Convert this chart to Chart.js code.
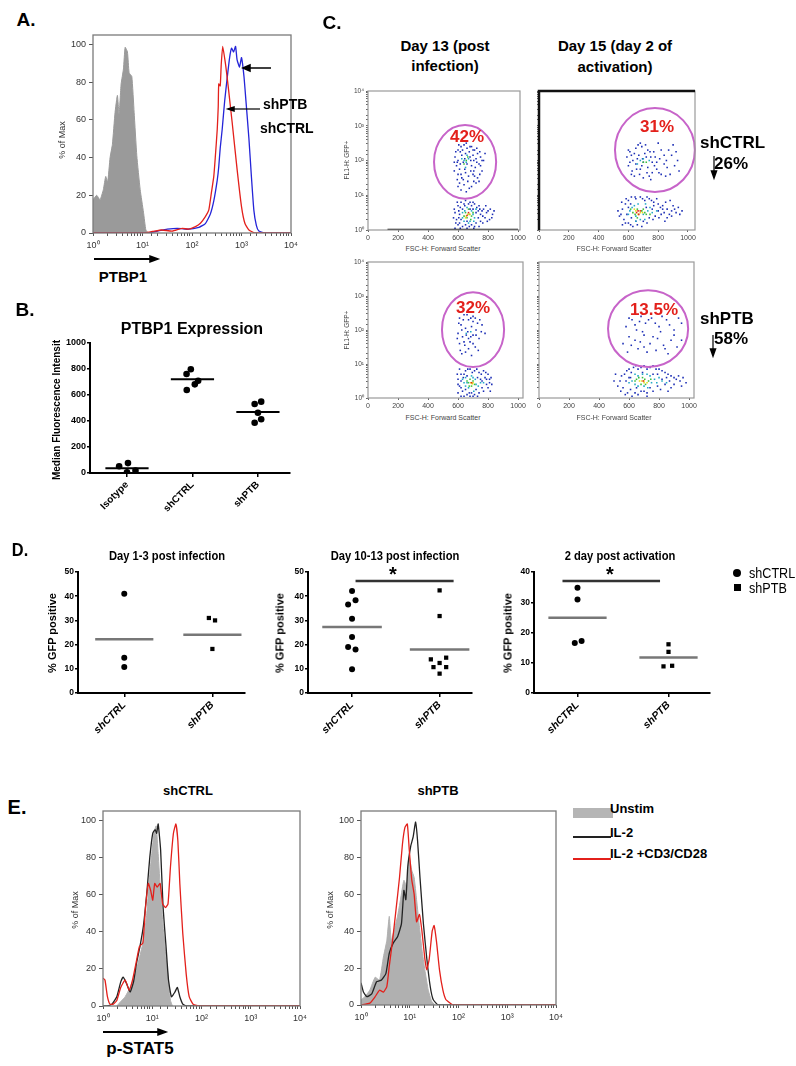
<!DOCTYPE html>
<html>
<head>
<meta charset="utf-8">
<script src="https://cdn.jsdelivr.net/npm/chart.js@4.4.0/dist/chart.umd.min.js"></script>
<style>
  body { margin:0; background:#fff; }
  #page { position:relative; width:796px; height:1066px; overflow:hidden; font-family:"Liberation Sans", Arial, sans-serif; color:#000; }
  canvas { position:absolute; }
  .t { position:absolute; white-space:nowrap; transform:translate(-50%,-50%); line-height:1; }
  .l { position:absolute; white-space:nowrap; transform:translateY(-50%); line-height:1; }
  .b { font-weight:bold; }
  .v { transform:translate(-50%,-50%) rotate(-90deg); }
  .nw { transform:translate(-50%,-50%) scaleX(0.86); }
  .nl { transform-origin:left center; transform:translateY(-50%) scaleX(0.9); }
  .pct { color:#e3201b; font-weight:bold; font-size:17px; }
  .sm { font-size:7px; color:#444; }
  svg { position:absolute; left:0; top:0; pointer-events:none; }
</style>
</head>
<body>
<div id="page">
  <canvas id="chA"></canvas>
  <canvas id="chB"></canvas>
  <canvas id="chC1"></canvas>
  <canvas id="chC2"></canvas>
  <canvas id="chC3"></canvas>
  <canvas id="chC4"></canvas>
  <canvas id="chD1"></canvas>
  <canvas id="chD2"></canvas>
  <canvas id="chD3"></canvas>
  <canvas id="chE1"></canvas>
  <canvas id="chE2"></canvas>

  <!-- A -->
  <div class="t b" style="left:26px;top:19px;font-size:19px">A.</div>
  <div class="t v" style="left:62px;top:140px;font-size:9px;color:#333">% of Max</div>
  <div class="t b" style="left:123px;top:276px;font-size:15px">PTBP1</div>
  <div class="l b" style="left:263px;top:104px;font-size:14px">shPTB</div>
  <div class="l b" style="left:260px;top:128px;font-size:14px">shCTRL</div>

  <!-- B -->
  <div class="t b" style="left:25px;top:309px;font-size:19px">B.</div>
  <div class="t b" style="left:192px;top:329px;font-size:16px">PTBP1 Expression</div>
  <div class="t b v" style="left:57px;top:410px;font-size:10px">Median Fluorescence Intensit</div>

  <!-- C -->
  <div class="t b" style="left:332px;top:22px;font-size:19px">C.</div>
  <div class="t b" style="left:445px;top:45px;font-size:15px">Day 13 (post</div>
  <div class="t b" style="left:445px;top:65px;font-size:15px">infection)</div>
  <div class="t b" style="left:615px;top:45px;font-size:15px">Day 15 (day 2 of</div>
  <div class="t b" style="left:615px;top:66px;font-size:15px">activation)</div>
  <div class="t pct" style="left:467px;top:136px">42%</div>
  <div class="t pct" style="left:657px;top:126px">31%</div>
  <div class="t pct" style="left:473px;top:307px">32%</div>
  <div class="t pct" style="left:654px;top:309px">13.5%</div>
  <div class="l b" style="left:700px;top:142px;font-size:17px">shCTRL</div>
  <div class="t b" style="left:731px;top:163px;font-size:17px">26%</div>
  <div class="l b" style="left:700px;top:318px;font-size:17px">shPTB</div>
  <div class="t b" style="left:731px;top:338px;font-size:17px">58%</div>
  <div class="t sm" style="left:443px;top:248px">FSC-H: Forward Scatter</div>
  <div class="t sm" style="left:614px;top:248px">FSC-H: Forward Scatter</div>
  <div class="t sm" style="left:443px;top:417px">FSC-H: Forward Scatter</div>
  <div class="t sm" style="left:614px;top:417px">FSC-H: Forward Scatter</div>
  <div class="t sm v" style="left:347px;top:160px;font-size:6.5px">FL1-H: GFP+</div>
  <div class="t sm v" style="left:347px;top:330px;font-size:6.5px">FL1-H: GFP+</div>

  <!-- D -->
  <div class="t b nw" style="left:20px;top:549px;font-size:19px">D.</div>
  <div class="t b nw" style="left:167px;top:555px;font-size:13px">Day 1-3 post infection</div>
  <div class="t b nw" style="left:395px;top:555px;font-size:13px">Day 10-13 post infection</div>
  <div class="t b nw" style="left:620px;top:555px;font-size:13px">2 day post activation</div>
  <div class="t b v" style="left:52px;top:633px;font-size:11px">% GFP positive</div>
  <div class="t b v" style="left:280px;top:633px;font-size:11px">% GFP positive</div>
  <div class="t b v" style="left:508px;top:633px;font-size:11px">% GFP positive</div>
  <div class="t b" style="left:393px;top:574px;font-size:20px">*</div>
  <div class="t b" style="left:610px;top:574px;font-size:20px">*</div>
  <div style="position:absolute;left:733px;top:569px;width:8px;height:8px;border-radius:50%;background:#000"></div>
  <div class="l nl" style="left:749px;top:573px;font-size:14px">shCTRL</div>
  <div style="position:absolute;left:734px;top:584px;width:7px;height:7px;background:#000"></div>
  <div class="l nl" style="left:749px;top:588px;font-size:14px">shPTB</div>

  <!-- E -->
  <div class="t b" style="left:17px;top:807px;font-size:20px">E.</div>
  <div class="t b" style="left:188px;top:790px;font-size:13px">shCTRL</div>
  <div class="t b" style="left:438px;top:790px;font-size:13px">shPTB</div>
  <div class="t v" style="left:75px;top:910px;font-size:9px;color:#333">% of Max</div>
  <div class="t v" style="left:330px;top:910px;font-size:9px;color:#333">% of Max</div>
  <div class="t b" style="left:140px;top:1048px;font-size:17px">p-STAT5</div>
  <div style="position:absolute;left:573px;top:808px;width:40px;height:10px;background:#b5b5b5"></div>
  <div class="l b" style="left:610px;top:808px;font-size:13px">Unstim</div>
  <div style="position:absolute;left:573px;top:836px;width:38px;height:2px;background:#222"></div>
  <div class="l b" style="left:610px;top:832px;font-size:13px">IL-2</div>
  <div style="position:absolute;left:573px;top:858px;width:38px;height:2px;background:#e3201b"></div>
  <div class="l b" style="left:610px;top:853px;font-size:13px">IL-2 +CD3/CD28</div>

  <svg width="796" height="1066">
    <g stroke="#000" stroke-width="1.5" fill="#000">
      <line x1="271" y1="68" x2="248" y2="68"/><polygon points="243,68 250,65 250,71"/>
      <line x1="260" y1="109" x2="232" y2="109" stroke-width="1.2"/><polygon points="228,109 234,107 234,111"/>
      <line x1="94" y1="259" x2="152" y2="259" stroke-width="2"/><polygon points="158,259 150,256 150,262"/>
      <line x1="103" y1="1032" x2="160" y2="1032" stroke-width="2"/><polygon points="166,1032 158,1029 158,1035"/>
      <line x1="714" y1="156" x2="714" y2="173" stroke-width="1.2"/><polygon points="714,178 711.5,171 716.5,171"/>
      <line x1="713" y1="335" x2="713" y2="351" stroke-width="1.2"/><polygon points="713,356 710.5,349 715.5,349"/>
    </g>
  </svg>
</div>

<script>
// ---------- data ----------
// histograms: [log10 intensity, % of max]
var aIsotype = [[0,17.6],[0.074,20],[0.142,17.6],[0.209,23],[0.257,30],[0.297,27],[0.345,40],[0.392,47],[0.446,64],[0.493,73],[0.527,63],[0.568,79],[0.615,87],[0.649,98.5],[0.696,96],[0.73,85],[0.784,83],[0.831,64],[0.885,41],[0.953,23],[1.02,11],[1.068,1.6],[1.12,0]];
var aShPTB = [[0,0],[1.0,0],[1.2,0.8],[1.39,1.6],[1.6,1],[1.8,2.5],[1.93,2],[2.07,3.4],[2.17,5.2],[2.27,8.7],[2.34,12.3],[2.39,21],[2.44,30],[2.47,40],[2.51,55],[2.53,67],[2.54,79],[2.57,78],[2.59,89],[2.62,99],[2.68,89],[2.73,78],[2.81,59],[2.91,34],[3.0,14],[3.07,5],[3.15,1.6],[3.28,0],[4,0]];
var aShCTRL = [[0,0],[1.1,0],[1.3,1],[1.5,2],[1.7,2.5],[1.9,2],[2.14,3],[2.27,5],[2.37,10],[2.44,17],[2.51,28],[2.54,35],[2.57,45],[2.61,55],[2.66,70],[2.71,82],[2.76,93],[2.80,98],[2.84,96],[2.88,99],[2.91,92],[2.96,88],[3.0,93],[3.05,83],[3.09,70],[3.15,50],[3.2,30],[3.25,12],[3.30,4],[3.35,1],[3.49,0],[4,0]];

var e1Unstim = [[0.28,0],[0.38,3],[0.45,5],[0.55,10],[0.65,17],[0.74,26],[0.82,35],[0.89,50],[0.94,68],[0.99,82],[1.04,94],[1.08,97],[1.12,82],[1.17,61],[1.22,43],[1.28,26],[1.33,14],[1.37,3],[1.41,0]];
var e1IL2 = [[0,0],[0.08,0],[0.18,1],[0.28,5],[0.36,13],[0.41,15.6],[0.48,12],[0.55,7.5],[0.62,13],[0.68,23],[0.75,32],[0.82,43],[0.89,61],[0.95,80],[1.01,93],[1.06,95],[1.09,93],[1.12,98],[1.17,84],[1.22,53],[1.28,32],[1.33,14],[1.39,5],[1.46,7.5],[1.51,10],[1.56,5],[1.62,1],[1.70,0],[4,0]];
var e1IL2CD = [[0,15],[0.04,14],[0.09,5],[0.14,1],[0.21,1],[0.28,3],[0.36,10],[0.45,14],[0.53,8.5],[0.60,14],[0.67,23],[0.74,32],[0.81,34],[0.86,52],[0.92,66],[0.97,62],[1.01,57],[1.05,66],[1.10,64],[1.16,66],[1.21,55],[1.27,53],[1.32,55],[1.37,75],[1.43,93],[1.48,98],[1.52,89],[1.56,66],[1.62,39],[1.69,17],[1.75,5],[1.83,1],[1.97,0],[4,0]];

var e2Unstim = [[0,2.7],[0.08,4.5],[0.18,8],[0.29,15],[0.38,13.5],[0.46,26],[0.53,35],[0.58,48],[0.62,35],[0.68,40.5],[0.75,48],[0.81,57],[0.88,67.5],[0.94,64],[0.99,80],[1.04,73],[1.09,69],[1.14,57],[1.20,42],[1.25,30],[1.31,19],[1.38,8],[1.45,2],[1.52,0]];
var e2IL2 = [[0,12],[0.05,7],[0.12,4.5],[0.22,6],[0.32,12.6],[0.42,13.5],[0.51,17],[0.58,28],[0.66,33.5],[0.75,37],[0.83,44],[0.88,62],[0.92,57],[0.96,75],[1.02,86],[1.07,91],[1.12,99],[1.16,89],[1.21,69],[1.28,44],[1.35,25],[1.42,10],[1.48,3],[1.59,0],[4,0]];
var e2IL2CD = [[0,0],[0.18,1],[0.29,4.5],[0.38,8],[0.46,7],[0.53,10],[0.58,21],[0.65,35.5],[0.72,52],[0.79,69],[0.85,87],[0.90,96],[0.95,98],[0.99,84],[1.04,68],[1.09,60],[1.14,45],[1.20,49],[1.25,40],[1.31,25],[1.35,19],[1.40,25],[1.46,40],[1.50,43],[1.55,34],[1.61,19],[1.68,8],[1.74,3],[1.83,1],[1.89,0],[4,0]];

// B: median fluorescence intensity
var bCats = ['Isotype', 'shCTRL', 'shPTB'];
var bIsotype = [52, 76, 6, 18];
var bIsotypeJit = [-0.12, 0.015, 0, 0.13];
var bShCTRL = [762, 798, 710, 682, 638];
var bShCTRLJit = [-0.09, -0.025, 0.087, 0.036, -0.087];
var bShPTB = [531, 549, 464, 413, 387];
var bShPTBJit = [-0.05, 0.05, 0, 0.05, -0.05];
var bMeans = [36, 721, 469];

// C: flow plots [FSC-H, log10 FL1-H]
var cXTicks = [0, 200, 400, 600, 800, 1000];
var c1Blue = [[600,2.3],[620,2.4],[640,2.45],[660,2.35],[690,2.4],[710,2.3],[730,2.2],[750,2.1],[770,2.0],[580,2.1],[600,2.0],[625,2.15],[650,2.2],[675,2.25],[700,2.15],[720,2.05],[590,1.85],[610,1.75],[635,1.95],[660,1.9],[690,1.85],[715,1.8],[740,1.9],[760,1.7],[600,1.6],[625,1.5],[650,1.65],[670,1.55],[700,1.6],[730,1.5],[610,1.35],[640,1.3],[665,1.4],[690,1.25],[620,1.15],[655,1.1],[720,1.35],[780,2.2],[575,1.95],[745,1.6],[615,2.25],[685,2.0],[705,1.7],[645,2.05],[595,1.45],
  [585,2.25],[605,2.45],[630,2.3],[655,2.5],[680,2.4],[700,2.3],[725,2.35],[745,2.25],[760,2.0],[595,1.95],[615,1.9],[680,2.1],[705,2.0],[725,1.95],[750,1.85],[575,1.7],[620,1.6],[645,1.75],[685,1.7],[710,1.55],[740,1.4],[635,1.45],[675,1.2],[600,1.25],[705,1.4],
  [580,0.5],[600,0.7],[620,0.8],[650,0.85],[680,0.8],[710,0.75],[740,0.7],[770,0.6],[800,0.55],[830,0.45],[590,0.3],[610,0.45],[630,0.6],[700,0.6],[720,0.5],[750,0.45],[780,0.35],[810,0.3],[600,0.15],[630,0.1],[660,0.05],[690,0.15],[720,0.2],[750,0.25],[620,0.3],[740,0.1],[570,0.35],[790,0.5],[640,0.75],[690,0.7],[605,0.55],[765,0.4],[735,0.55],[610,0.2],[705,0.05],
  [575,0.6],[595,0.8],[615,0.65],[645,0.7],[670,0.75],[700,0.8],[725,0.65],[760,0.55],[785,0.7],[815,0.6],[840,0.55],[585,0.2],[605,0.35],[650,0.15],[675,0.1],[710,0.1],[735,0.35],[765,0.2],[795,0.25],[825,0.35],[580,0.05],[615,0.05],[680,0.6],[745,0.6],[660,0.25]];
var c1Cyan = [[640,2.0],[655,1.95],[670,2.05],[650,1.8],[630,0.5],[690,0.55],[660,0.65],[710,0.35],[640,0.25],[680,0.25],[625,2.05],[660,2.15],[645,0.55],[700,0.45],[720,0.6],[670,0.2],[630,0.35],[705,0.25]];
var c1Green = [[665,2.1],[650,0.5],[675,0.45],[660,0.35],[690,0.4],[640,1.9],[655,2.0],[640,0.4],[700,0.5],[670,0.6],[685,0.3]];
var c1Yellow = [[665,0.45],[655,0.4],[680,0.45],[650,0.35]];
var c1Red = [[660,0.42],[670,0.5]];
var c1Floor = [[130,0],[1000,0]];

var c2Blue = [[590,2.1],[610,2.25],[630,2.0],[650,2.35],[670,2.15],[690,2.4],[710,2.2],[730,2.3],[750,2.1],[770,2.25],[790,1.95],[810,2.05],[840,2.15],[870,2.3],[900,2.45],[930,2.0],[600,1.85],[625,1.7],[650,1.9],[680,1.75],[700,1.95],[730,1.8],[760,1.65],[790,1.75],[820,1.6],[860,1.8],[640,1.55],[700,1.5],[750,1.45],[880,1.6],[660,2.05],[720,2.1],[620,2.15],[760,1.95],[940,1.7],[680,2.5],[800,2.5],[840,1.9],
  [600,2.3],[640,2.2],[665,2.45],[695,2.05],[715,2.45],[745,2.25],[780,2.1],[820,2.3],[855,2.0],[890,2.15],[920,2.25],[610,1.95],[655,1.75],[690,1.85],[725,1.65],[775,1.85],[805,1.65],[850,1.55],[910,1.85],[620,1.6],[675,1.6],[740,1.55],
  [540,0.4],[560,0.6],[580,0.75],[600,0.85],[620,0.95],[650,0.9],[680,0.95],[710,0.85],[740,0.9],[770,0.8],[800,0.75],[830,0.7],[860,0.6],[890,0.55],[920,0.5],[945,0.45],[570,0.3],[600,0.2],[630,0.1],[660,0.15],[700,0.25],[740,0.35],[780,0.4],[820,0.45],[860,0.35],[590,0.45],[760,0.6],[800,0.55],[840,0.5],[900,0.7],[620,0.35],[560,0.15],[880,0.85],[720,0.65],
  [530,0.55],[555,0.8],[585,0.9],[615,0.75],[645,0.95],[695,0.9],[725,0.95],[755,0.85],[790,0.9],[815,0.65],[850,0.8],[875,0.45],[910,0.6],[935,0.65],[960,0.55],[550,0.45],[580,0.2],[615,0.15],[650,0.25],[690,0.1],[725,0.2],[765,0.3],[805,0.35],[845,0.25],[890,0.4],[600,0.65],[770,0.7],[830,0.6]];
var c2Cyan = [[680,2.0],[700,2.05],[610,0.55],[640,0.7],[700,0.45],[730,0.55],[680,0.3],[760,0.5],[650,0.4],[660,1.9],[740,2.0],[625,0.65],[665,0.75],[715,0.75],[745,0.65],[790,0.55],[600,0.45],[710,0.3],[650,0.25]];
var c2Green = [[720,1.95],[630,0.5],[660,0.6],[700,0.6],[720,0.45],[700,1.95],[615,0.6],[645,0.45],[690,0.55],[745,0.45],[710,0.5],[660,0.35]];
var c2Yellow = [[650,0.55],[680,0.5],[640,0.6],[695,0.5],[665,0.45]];
var c2Red = [[665,0.55],[670,0.45],[655,0.5],[680,0.55]];

var c3Blue = [[610,2.35],[640,2.45],[670,2.3],[700,2.4],[730,2.2],[620,2.15],[650,2.05],[690,2.1],[720,2.0],[760,2.15],[600,1.9],[630,1.8],[665,1.95],[700,1.85],[740,1.75],[610,1.6],[645,1.55],[680,1.65],[715,1.5],[650,1.35],[690,1.25],[625,1.3],[780,1.9],[670,1.75],[700,2.25],
  [605,2.2],[635,2.3],[660,2.45],[685,2.35],[715,2.35],[745,2.3],[625,2.0],[655,1.85],[685,1.8],[720,1.85],[755,1.95],[595,1.75],[640,1.65],[700,1.6],[670,1.45],[615,1.4],[735,1.4],
  [600,0.55],[620,0.7],[650,0.8],[680,0.85],[710,0.8],[740,0.75],[770,0.8],[800,0.7],[820,0.6],[610,0.35],[630,0.2],[660,0.1],[690,0.15],[720,0.25],[760,0.3],[790,0.4],[810,0.45],[600,0.15],[640,0.05],[700,0.05],[750,0.55],[780,0.6],[620,0.5],[660,0.65],[730,0.6],
  [595,0.7],[610,0.85],[635,0.6],[665,0.85],[695,0.75],[725,0.85],[755,0.7],[785,0.75],[810,0.55],[825,0.4],[600,0.4],[620,0.3],[650,0.25],[675,0.15],[710,0.1],[740,0.15],[770,0.2],[800,0.3],[815,0.2],[620,0.05],[680,0.05],[730,0.05],[640,0.7],[760,0.5],[790,0.55]];
var c3Cyan = [[655,1.9],[685,1.95],[640,0.45],[720,0.4],[670,0.3],[700,0.6],[750,0.45],[650,0.6],[630,0.55],[660,0.45],[690,0.65],[715,0.55],[735,0.35],[705,0.2],[650,0.35],[770,0.45]];
var c3Green = [[670,0.45],[700,0.5],[690,0.35],[680,0.55],[710,0.4],[660,0.5],[675,0.35]];
var c3Yellow = [[685,0.45],[695,0.42],[700,0.45]];
var c3Red = [[690,0.45]];

var c4Blue = [[580,2.1],[620,2.3],[650,2.0],[680,2.4],[710,2.2],[750,2.35],[800,2.1],[850,2.3],[900,2.0],[950,2.2],[600,1.8],[640,1.7],[700,1.85],[740,1.6],[790,1.75],[830,1.55],[880,1.7],[660,1.45],[720,1.35],[780,1.4],[860,1.3],[560,1.6],[920,1.5],[690,1.95],
  [600,2.35],[640,2.15],[670,2.25],[730,2.3],[775,2.2],[820,2.4],[870,2.15],[930,2.35],[615,1.55],[675,1.65],[760,1.8],[810,1.95],[900,1.85],[950,1.7],[700,1.5],[840,1.45],[590,1.35],
  [510,0.7],[540,0.5],[570,0.7],[600,0.85],[630,0.9],[660,0.85],[700,0.95],[740,0.9],[780,0.85],[820,0.8],[860,0.7],[900,0.6],[940,0.5],[980,0.45],[560,0.3],[590,0.15],[620,0.05],[660,0.1],[700,0.2],[740,0.3],[790,0.35],[840,0.4],[880,0.3],[580,0.5],[820,0.55],[870,0.5],[600,0.6],[760,0.7],[930,0.65],[650,0.3],
  [500,0.5],[525,0.35],[550,0.65],[585,0.8],[615,0.75],[645,0.95],[680,0.9],[720,0.85],[760,0.95],[800,0.85],[840,0.75],[880,0.65],[915,0.55],[960,0.6],[545,0.2],[575,0.1],[610,0.25],[640,0.15],[680,0.2],[720,0.15],[760,0.2],[810,0.25],[860,0.2],[900,0.4],[950,0.35],[610,0.6],[690,0.75],[790,0.7],[850,0.6],[720,0.05]];
var c4Cyan = [[620,0.5],[660,0.65],[720,0.7],[770,0.55],[800,0.6],[700,0.35],[640,0.4],[750,0.45],[600,0.45],[640,0.7],[690,0.7],[740,0.65],[785,0.45],[820,0.5],[660,0.35],[725,0.3],[850,0.45]];
var c4Green = [[650,0.55],[690,0.6],[730,0.5],[680,0.4],[665,0.6],[705,0.55],[745,0.55],[710,0.4],[640,0.5]];
var c4Yellow = [[700,0.5],[670,0.5],[720,0.45],[685,0.5],[700,0.45]];
var c4Red = [[695,0.5]];

// D: % GFP positive
var dCats = ['shCTRL', 'shPTB'];
var d1CTRL = [41, 14.6, 10.7];
var d1CTRLJit = [0, 0, 0];
var d1PTB = [31, 30, 18.2];
var d1PTBJit = [-0.04, 0.03, 0];
var d1Means = [22.2, 24.1];
var d2CTRL = [42.1, 38.3, 36.6, 30.7, 23.1, 19, 18, 9.8];
var d2CTRLJit = [0, 0.04, -0.045, 0, 0, -0.045, 0.04, 0];
var d2PTB = [42.4, 31.8, 13.9, 14.6, 12.4, 10.7, 10.7, 8.0];
var d2PTBJit = [0, 0, -0.1, 0.075, 0, -0.07, 0.075, 0];
var d2Means = [27.3, 18.0];
var d3CTRL = [34.8, 30.9, 16.5, 17.2];
var d3CTRLJit = [0, 0, -0.03, 0.045];
var d3PTB = [16.1, 13.6, 8.8, 9.0];
var d3PTBJit = [0, 0, -0.055, 0.04];
var d3Means = [24.9, 11.7];

// ---------- helpers ----------
Chart.defaults.font.family = '"Liberation Sans", Arial, sans-serif';
var sup = ['\u2070', '\u00b9', '\u00b2', '\u00b3', '\u2074'];

function pow10Label(v) {
    var e = Math.log10(v);
    return Math.abs(e - Math.round(e)) < 1e-6 ? '10' + sup[Math.round(e)] : '';
}
function histPts(pairs) {
    return pairs.map(function(p) { return {x: Math.pow(10, p[0]), y: p[1]}; });
}
function flowPts(pairs) {
    return pairs.map(function(p) { return {x: p[0], y: Math.pow(10, p[1])}; });
}
function catPts(vals, idx, jit) {
    return vals.map(function(v, j) { return {x: idx + jit[j], y: v}; });
}
function mount(id, area, pad) {
    var c = document.getElementById(id);
    c.width = area.w + pad.l + pad.r;
    c.height = area.h + pad.t + pad.b;
    c.style.left = (area.x - pad.l) + 'px';
    c.style.top = (area.y - pad.t) + 'px';
    return c;
}

var framePlugin = {
    id: 'frame',
    afterDraw: function(chart, args, o) {
        if (!o || !o.show) return;
        var a = chart.chartArea, ctx = chart.ctx;
        ctx.save();
        ctx.strokeStyle = o.color;
        ctx.lineWidth = o.width;
        ctx.strokeRect(a.left, a.top, a.right - a.left, a.bottom - a.top);
        if (o.heavy) {
            ctx.strokeStyle = '#111';
            ctx.lineWidth = 2.5;
            ctx.beginPath();
            ctx.moveTo(a.left, a.bottom);
            ctx.lineTo(a.left, a.top);
            ctx.lineTo(a.right, a.top);
            ctx.stroke();
        }
        ctx.restore();
    }
};

var gatePlugin = {
    id: 'gate',
    afterDatasetsDraw: function(chart, args, o) {
        if (!o || o.cx === undefined) return;
        var xs = chart.scales.x, ys = chart.scales.y, ctx = chart.ctx;
        var px = xs.getPixelForValue(o.cx);
        var py = ys.getPixelForValue(Math.pow(10, o.cy));
        var rx = xs.getPixelForValue(o.cx + o.rx) - px;
        var ry = py - ys.getPixelForValue(Math.pow(10, o.cy + o.ry));
        ctx.save();
        ctx.strokeStyle = '#c764c9';
        ctx.lineWidth = 2;
        ctx.beginPath();
        ctx.ellipse(px, py, rx, ry, 0, 0, Math.PI * 2);
        ctx.stroke();
        ctx.restore();
    }
};

var meanPlugin = {
    id: 'means',
    afterDatasetsDraw: function(chart, args, o) {
        if (!o || !o.values) return;
        var xs = chart.scales.x, ys = chart.scales.y, ctx = chart.ctx;
        ctx.save();
        ctx.strokeStyle = o.color;
        ctx.lineWidth = o.width;
        o.values.forEach(function(m, i) {
            var y = ys.getPixelForValue(m);
            ctx.beginPath();
            ctx.moveTo(xs.getPixelForValue(i - o.half), y);
            ctx.lineTo(xs.getPixelForValue(i + o.half), y);
            ctx.stroke();
        });
        if (o.sig) {
            var sy = ys.getPixelForValue(o.sig.y);
            ctx.strokeStyle = '#333';
            ctx.lineWidth = 2.5;
            ctx.beginPath();
            ctx.moveTo(xs.getPixelForValue(o.sig.from), sy);
            ctx.lineTo(xs.getPixelForValue(o.sig.to), sy);
            ctx.stroke();
        }
        ctx.restore();
    }
};

function histChart(id, area, curves) {
    var pad = {l: 40, t: 10, r: 15, b: 26};
    var c = mount(id, area, pad);
    return new Chart(c, {
        type: 'line',
        data: {datasets: curves},
        options: {
            responsive: false, animation: false, devicePixelRatio: 1,
            layout: {padding: {left: 0, top: pad.t, right: pad.r, bottom: 0}},
            plugins: {legend: {display: false}, tooltip: {enabled: false},
                frame: {show: true, color: '#7a7a7a', width: 1.3}},
            scales: {
                x: {type: 'logarithmic', min: 1, max: 10000,
                    afterFit: function(s) { s.height = pad.b; },
                    border: {display: false},
                    grid: {drawOnChartArea: false, tickLength: 3, color: '#555'},
                    ticks: {autoSkip: false, maxRotation: 0, padding: 4, color: '#333', font: {size: 9}, callback: pow10Label}},
                y: {min: 0, max: 105,
                    afterFit: function(s) { s.width = pad.l; },
                    border: {display: false},
                    grid: {drawOnChartArea: false, tickLength: 4, color: '#555'},
                    ticks: {stepSize: 20, includeBounds: false, padding: 3, color: '#333', font: {size: 9}}}
            }
        },
        plugins: [framePlugin]
    });
}

function histSet(pairs, color, filled, order) {
    return {
        data: histPts(pairs), borderColor: color, borderWidth: filled ? 1 : 1.3,
        backgroundColor: color, fill: filled ? 'origin' : false,
        pointRadius: 0, tension: 0.15, order: order
    };
}

function flowChart(id, area, xmax, showY, sets, gate, heavy, floor) {
    var pad = {l: showY ? 26 : 8, t: 8, r: 10, b: 14};
    var c = mount(id, area, pad);
    var cols = ['#1b2db5', '#21a9c6', '#3cbf3a', '#e6df1f', '#e2261d'];
    var ds = sets.map(function(s, i) {
        return {data: flowPts(s), pointStyle: 'rect', pointRadius: 1.1, borderWidth: 0,
            backgroundColor: cols[i], order: 10 - i};
    });
    if (floor) {
        ds.push({type: 'line', data: flowPts(floor), borderColor: '#111', borderWidth: 2.5,
            pointRadius: 0, order: 0});
    }
    return new Chart(c, {
        type: 'scatter',
        data: {datasets: ds},
        options: {
            responsive: false, animation: false, devicePixelRatio: 1,
            layout: {padding: {left: 0, top: pad.t, right: pad.r, bottom: 0}},
            plugins: {legend: {display: false}, tooltip: {enabled: false},
                frame: {show: true, color: '#9a9a9a', width: 1.2, heavy: heavy}, gate: gate},
            scales: {
                x: {type: 'linear', min: 0, max: xmax,
                    afterFit: function(s) { s.height = pad.b; },
                    afterBuildTicks: function(s) { s.ticks = cXTicks.map(function(v) { return {value: v}; }); },
                    border: {display: false},
                    grid: {drawOnChartArea: false, tickLength: 2, color: '#666'},
                    ticks: {autoSkip: false, maxRotation: 0, padding: 2, color: '#444', font: {size: 7},
                        callback: function(v) { return String(v); }}},
                y: {type: 'logarithmic', min: 1, max: 10000,
                    afterFit: function(s) { s.width = pad.l; },
                    border: {display: false},
                    grid: {drawOnChartArea: false, tickLength: 2, color: '#666'},
                    ticks: {autoSkip: false, padding: 2, color: '#444', font: {size: 6.5},
                        callback: showY ? pow10Label : function() { return ''; }}}
            }
        },
        plugins: [framePlugin, gatePlugin]
    });
}

function dotChart(id, area, pad, cats, xr, yr, groups, meanOpts, xFont, yFont, rot) {
    var c = mount(id, area, pad);
    var ds = groups.map(function(g) {
        return {data: catPts(g.vals, g.idx, g.jit), pointStyle: g.shape, pointRadius: g.r,
            backgroundColor: '#000', borderWidth: 0};
    });
    return new Chart(c, {
        type: 'scatter',
        data: {datasets: ds},
        options: {
            responsive: false, animation: false, devicePixelRatio: 1,
            layout: {padding: {left: 0, top: pad.t, right: pad.r, bottom: 0}},
            plugins: {legend: {display: false}, tooltip: {enabled: false}, means: meanOpts},
            scales: {
                x: {type: 'linear', min: xr[0], max: xr[1],
                    afterFit: function(s) { s.height = pad.b; },
                    afterBuildTicks: function(s) { s.ticks = cats.map(function(n, i) { return {value: i}; }); },
                    border: {display: true, color: '#000', width: 2},
                    grid: {drawOnChartArea: false, tickLength: 4, color: '#000', lineWidth: 1.5},
                    ticks: {minRotation: rot, maxRotation: rot, padding: 2, color: '#000', font: xFont,
                        callback: function(v) { return cats[Math.round(v)]; }}},
                y: {min: yr[0], max: yr[1],
                    afterFit: function(s) { s.width = pad.l; },
                    border: {display: true, color: '#000', width: 2},
                    grid: {drawOnChartArea: false, tickLength: 3, color: '#000', lineWidth: 1.5},
                    ticks: {stepSize: yr[2], padding: 1, color: '#000', font: yFont,
                        callback: function(v) { return String(v); }}}
            }
        },
        plugins: [meanPlugin]
    });
}

// ---------- A ----------
histChart('chA', {x: 93, y: 35, w: 198, h: 198}, [
    histSet(aShPTB, '#e3201b', false, 1),
    histSet(aShCTRL, '#2424d8', false, 2),
    histSet(aIsotype, '#9a9a9a', true, 3)
]);

// ---------- B ----------
dotChart('chB', {x: 90, y: 343, w: 200, h: 130}, {l: 40, t: 10, r: 12, b: 50}, bCats,
    [-0.565, 2.49], [0, 1000, 200], [
        {vals: bIsotype, idx: 0, jit: bIsotypeJit, shape: 'circle', r: 3.3},
        {vals: bShCTRL, idx: 1, jit: bShCTRLJit, shape: 'circle', r: 3.3},
        {vals: bShPTB, idx: 2, jit: bShPTBJit, shape: 'circle', r: 3.3}
    ], {values: bMeans, half: 0.33, color: '#000', width: 2},
    {size: 10, weight: 'bold'}, {size: 9, weight: 'bold'}, 45);

// ---------- C ----------
flowChart('chC1', {x: 368, y: 91, w: 152, h: 139}, 1013, true,
    [c1Blue, c1Cyan, c1Green, c1Yellow, c1Red], {cx: 647, cy: 1.96, rx: 207, ry: 1.06}, false, c1Floor);
flowChart('chC2', {x: 539, y: 91, w: 156, h: 139}, 1047, false,
    [c2Blue, c2Cyan, c2Green, c2Yellow, c2Red], {cx: 778, cy: 2.3, rx: 268, ry: 1.21}, true);
flowChart('chC3', {x: 368, y: 262, w: 155, h: 136}, 1033, true,
    [c3Blue, c3Cyan, c3Green, c3Yellow, c3Red], {cx: 700, cy: 2.01, rx: 207, ry: 1.1}, false);
flowChart('chC4', {x: 539, y: 262, w: 155, h: 136}, 1033, false,
    [c4Blue, c4Cyan, c4Green, c4Yellow, c4Red], {cx: 727, cy: 2.04, rx: 267, ry: 1.13}, false);

// ---------- D ----------
var dXFont = {size: 10.5, weight: 'bold', style: 'italic'};
var dYFont = {size: 8.5, weight: 'bold'};
var dPad = {l: 35, t: 10, r: 10, b: 50};
dotChart('chD1', {x: 78, y: 572, w: 167, h: 121}, dPad, dCats,
    [-0.525, 1.37], [0, 50, 10], [
        {vals: d1CTRL, idx: 0, jit: d1CTRLJit, shape: 'circle', r: 3},
        {vals: d1PTB, idx: 1, jit: d1PTBJit, shape: 'rect', r: 3}
    ], {values: d1Means, half: 0.33, color: '#777', width: 2.5}, dXFont, dYFont, 45);
dotChart('chD2', {x: 308, y: 572, w: 164, h: 121}, dPad, dCats,
    [-0.503, 1.37], [0, 50, 10], [
        {vals: d2CTRL, idx: 0, jit: d2CTRLJit, shape: 'circle', r: 3},
        {vals: d2PTB, idx: 1, jit: d2PTBJit, shape: 'rect', r: 3}
    ], {values: d2Means, half: 0.34, color: '#777', width: 2.5, sig: {from: 0.04, to: 1.16, y: 46.3}}, dXFont, dYFont, 45);
dotChart('chD3', {x: 534, y: 572, w: 176, h: 121}, dPad, dCats,
    [-0.478, 1.456], [0, 40, 10], [
        {vals: d3CTRL, idx: 0, jit: d3CTRLJit, shape: 'circle', r: 3},
        {vals: d3PTB, idx: 1, jit: d3PTBJit, shape: 'rect', r: 3}
    ], {values: d3Means, half: 0.32, color: '#777', width: 2.5, sig: {from: -0.165, to: 0.907, y: 37}}, dXFont, dYFont, 45);

// ---------- E ----------
histChart('chE1', {x: 103, y: 811, w: 197, h: 195}, [
    histSet(e1IL2CD, '#e3201b', false, 1),
    histSet(e1IL2, '#222222', false, 2),
    histSet(e1Unstim, '#b0b0b0', true, 3)
]);
histChart('chE2', {x: 361, y: 811, w: 195, h: 194}, [
    histSet(e2IL2CD, '#e3201b', false, 1),
    histSet(e2IL2, '#222222', false, 2),
    histSet(e2Unstim, '#b0b0b0', true, 3)
]);
</script>
</body>
</html>
